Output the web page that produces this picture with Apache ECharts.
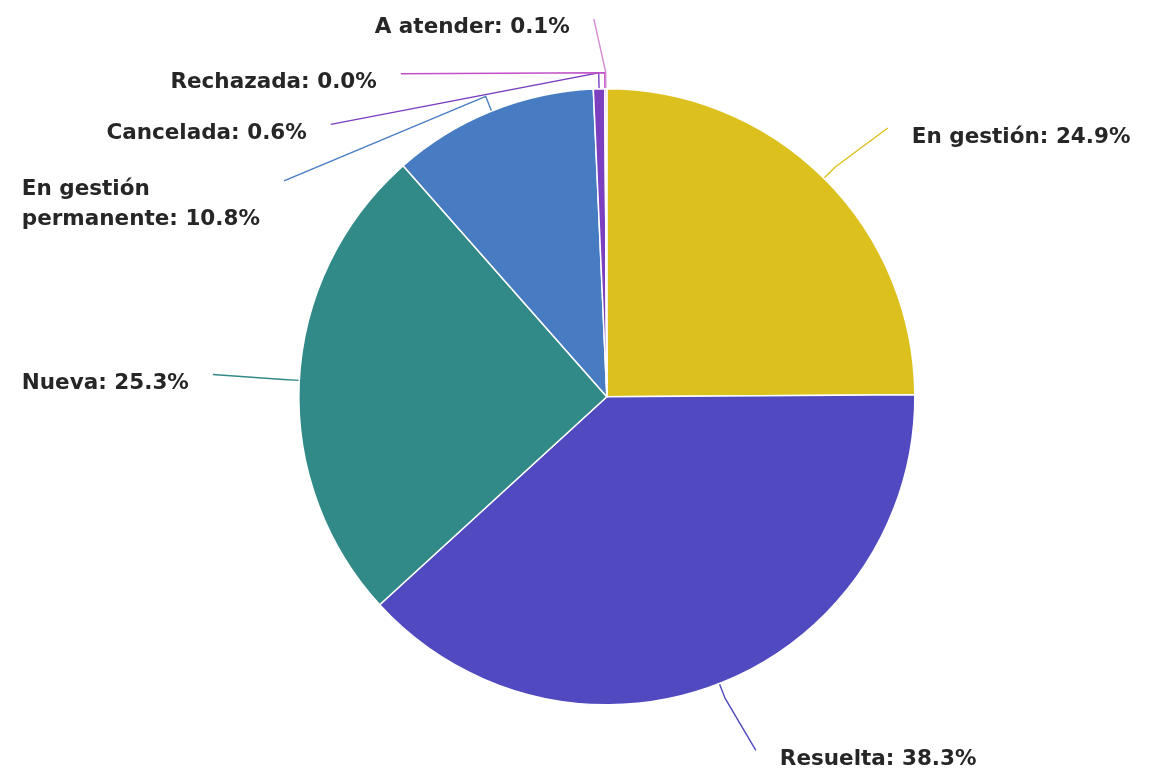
<!DOCTYPE html>
<html>
<head>
<meta charset="utf-8">
<script src="https://cdn.jsdelivr.net/npm/echarts@6/dist/echarts.min.js"></script>
<style>
html,body{margin:0;padding:0;background:#fff;}
#chart{width:1167px;height:772px;}
</style>
</head>
<body>
<div id="chart"></div>
<script>
// ---- data ----
const categories = ['En gestión', 'Resuelta', 'Nueva', 'En gestión\npermanente', 'Cancelada', 'Rechazada', 'A atender'];
const values = [24.9, 38.3, 25.3, 10.8, 0.6, 0.0, 0.1];

// ---- style / layout (kept apart from data) ----
const colors = ['#dcc11e', '#5149c0', '#318a88', '#477cc2', '#7b3fc0', '#c04fc8', '#d58ad5'];
// label offset from the end of the short radial leader stub
// align: which text edge the offset refers to; side: where the leader meets the text
const labelPlacement = [
  {align: 'left',  side: 'R', ox: 76.6,   oy: -30},
  {align: 'left',  side: 'R', ox: 54.7,   oy: 61},
  {align: 'left',  side: 'L', ox: -261.5, oy: 4},
  {align: 'left',  side: 'L', ox: -463.9, oy: 93.5},
  {align: 'right', side: 'L', ox: -291.9, oy: 60.5},
  {align: 'right', side: 'L', ox: -228,   oy: 10},
  {align: 'right', side: 'L', ox: -36,    oy: -45}
];
const LINE_H = 30, GAP = 24;

const chart = echarts.init(document.getElementById('chart'), null, {renderer: 'canvas'});
chart.setOption({
  backgroundColor: '#ffffff',
  animation: false,
  series: [{
    type: 'pie',
    center: ['52%', '51.4%'],
    radius: [0, 308],
    startAngle: 90,
    clockwise: true,
    avoidLabelOverlap: false,
    minShowLabelAngle: 0,
    data: categories.map((c, i) => ({name: c, value: values[i], itemStyle: {color: colors[i]}})),
    itemStyle: {borderColor: '#ffffff', borderWidth: 1.5},
    label: {
      show: true,
      position: 'outside',
      formatter: p => p.name + ': ' + values[p.dataIndex].toFixed(1) + '%',
      fontFamily: '"DejaVu Sans", sans-serif',
      fontWeight: 'bold',
      fontSize: 21.5,
      lineHeight: LINE_H,
      color: '#262626',
      distanceToLabelLine: 0
    },
    labelLine: {
      show: true,
      length: 16,
      length2: 0,
      smooth: false,
      lineStyle: {width: 1.4}
    },
    labelLayout: function (params) {
      const cfg = labelPlacement[params.dataIndex];
      const pts = params.labelLinePoints;
      if (!cfg || !pts) return {};
      const p0 = pts[0], p1 = pts[1];
      const w = params.labelRect.width;
      const xA = p1[0] + cfg.ox;
      const firstCenter = p1[1] + cfg.oy;
      const textLeft = cfg.align === 'left' ? xA : xA - w;
      const endX = cfg.side === 'L' ? textLeft + w + GAP : textLeft - GAP;
      return {
        x: xA,
        y: firstCenter - LINE_H / 2,
        align: cfg.align,
        verticalAlign: 'top',
        labelLinePoints: [p0, p1, [endX, firstCenter - 9]]
      };
    }
  }]
});
</script>
</body>
</html>
